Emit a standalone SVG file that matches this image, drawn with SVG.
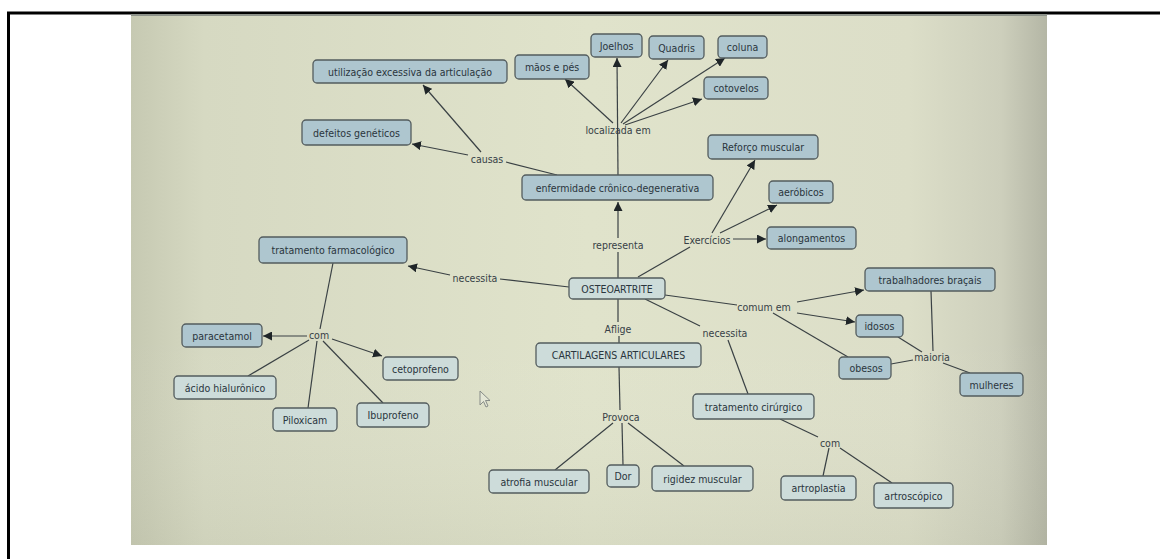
<svg xmlns="http://www.w3.org/2000/svg" width="1160" height="559" viewBox="0 0 1160 559">
<defs>
<linearGradient id="bgH" x1="0" y1="0" x2="1" y2="0">
<stop offset="0" stop-color="#c6c9b2"/>
<stop offset="0.08" stop-color="#d6d9c2"/>
<stop offset="0.5" stop-color="#e0e3cb"/>
<stop offset="0.85" stop-color="#dcdec8"/>
<stop offset="0.95" stop-color="#cdcfbc"/>
<stop offset="1" stop-color="#b4b6a5"/>
</linearGradient>
<linearGradient id="bgV" x1="0" y1="0" x2="0" y2="1">
<stop offset="0" stop-color="#ffffff" stop-opacity="0"/>
<stop offset="0.6" stop-color="#ffffff" stop-opacity="0"/>
<stop offset="1" stop-color="#9a9d88" stop-opacity="0.12"/>
</linearGradient>
<marker id="arr" viewBox="0 0 10 10" refX="10" refY="5" markerWidth="9" markerHeight="9" markerUnits="userSpaceOnUse" orient="auto">
<path d="M0,0 L10,5 L0,10 Z" fill="#1f2528"/>
</marker>
<style>
.n rect{stroke:#535c5e;stroke-width:1.3}
.b rect{fill:#aec6cf}
.l rect{fill:#cddcda}
.n text{font-family:"DejaVu Sans Condensed","DejaVu Sans",sans-serif;font-size:10.5px;fill:#2a353d;text-anchor:middle;dominant-baseline:central}
.lab{font-family:"DejaVu Sans Condensed","DejaVu Sans",sans-serif;font-size:10.5px;fill:#373f46;text-anchor:middle;dominant-baseline:central}
#connectors line{stroke:#3a4144;stroke-width:1.2;fill:none}
#connectors line.a{marker-end:url(#arr)}
</style>
</defs>
<rect x="0" y="0" width="1160" height="559" fill="#ffffff"/>
<path d="M8.5,559 L8.5,13 L1160,13" fill="none" stroke="#000" stroke-width="3"/>
<rect x="131" y="14" width="916" height="531" fill="url(#bgH)"/>
<rect x="131" y="14" width="916" height="531" fill="url(#bgV)"/>
<rect x="131" y="14" width="916" height="2" fill="#8d928a"/>

<g id="connectors">
<line x1="618" y1="175" x2="617" y2="58" class="a"/>
<line x1="613" y1="123" x2="565" y2="79" class="a"/>
<line x1="621" y1="123" x2="668" y2="60" class="a"/>
<line x1="623" y1="124" x2="725" y2="58" class="a"/>
<line x1="625" y1="125" x2="702" y2="99" class="a"/>
<line x1="557" y1="175" x2="506" y2="162"/>
<line x1="468" y1="155" x2="412" y2="144" class="a"/>
<line x1="481" y1="152" x2="423" y2="85" class="a"/>
<line x1="618" y1="278" x2="618" y2="252"/>
<line x1="618" y1="238" x2="618" y2="202" class="a"/>
<line x1="638" y1="277" x2="690" y2="247"/>
<line x1="712" y1="233" x2="755" y2="160" class="a"/>
<line x1="720" y1="233" x2="777" y2="205" class="a"/>
<line x1="733" y1="239" x2="766" y2="239" class="a"/>
<line x1="569" y1="287" x2="500" y2="279"/>
<line x1="450" y1="275" x2="408" y2="266" class="a"/>
<line x1="333" y1="263" x2="320" y2="329"/>
<line x1="307" y1="336" x2="263" y2="336" class="a"/>
<line x1="332" y1="339" x2="382" y2="356" class="a"/>
<line x1="309" y1="340" x2="248" y2="376"/>
<line x1="317" y1="341" x2="308" y2="408"/>
<line x1="323" y1="341" x2="383" y2="403"/>
<line x1="665" y1="295" x2="737" y2="305"/>
<line x1="797" y1="302" x2="864" y2="290" class="a"/>
<line x1="797" y1="313" x2="855" y2="322" class="a"/>
<line x1="773" y1="313" x2="848" y2="357"/>
<line x1="931" y1="291" x2="933" y2="351"/>
<line x1="898" y1="337" x2="922" y2="352"/>
<line x1="913" y1="360" x2="891" y2="364"/>
<line x1="943" y1="363" x2="970" y2="373"/>
<line x1="645" y1="299" x2="700" y2="326"/>
<line x1="728" y1="340" x2="748" y2="394"/>
<line x1="618" y1="299" x2="618" y2="322"/>
<line x1="619" y1="336" x2="619" y2="343"/>
<line x1="619" y1="367" x2="620" y2="410"/>
<line x1="613" y1="423" x2="555" y2="470"/>
<line x1="622" y1="423" x2="623" y2="465"/>
<line x1="628" y1="423" x2="684" y2="466"/>
<line x1="780" y1="419" x2="818" y2="437"/>
<line x1="829" y1="448" x2="823" y2="476"/>
<line x1="840" y1="448" x2="892" y2="483"/>
</g>

<g id="labels">
<text class="lab" x="618" y="130">localizada em</text>
<text class="lab" x="487" y="159">causas</text>
<text class="lab" x="618" y="245">representa</text>
<text class="lab" x="707" y="240">Exercícios</text>
<text class="lab" x="475" y="278">necessita</text>
<text class="lab" x="764" y="307">comum em</text>
<text class="lab" x="618" y="329">Aflige</text>
<text class="lab" x="725" y="333">necessita</text>
<text class="lab" x="932" y="357">maioria</text>
<text class="lab" x="319" y="335">com</text>
<text class="lab" x="621" y="417">Provoca</text>
<text class="lab" x="830" y="443">com</text>
</g>

<g id="n-utilizacao" class="n b"><rect x="313" y="60" width="194" height="23" rx="4"/><text x="410" y="71.5">utilização excessiva da articulação</text></g>
<g id="n-defeitos" class="n b"><rect x="302" y="120" width="109" height="25" rx="4"/><text x="356.5" y="132.5">defeitos genéticos</text></g>
<g id="n-maos" class="n b"><rect x="515" y="55" width="74" height="24" rx="4"/><text x="552" y="67">mãos e pés</text></g>
<g id="n-joelhos" class="n b"><rect x="591" y="34" width="51" height="23" rx="4"/><text x="616.5" y="45.5">Joelhos</text></g>
<g id="n-quadris" class="n b"><rect x="649" y="36" width="55" height="23" rx="4"/><text x="676.5" y="47.5">Quadris</text></g>
<g id="n-coluna" class="n b"><rect x="718" y="36" width="49" height="22" rx="4"/><text x="742.5" y="47">coluna</text></g>
<g id="n-cotovelos" class="n b"><rect x="704" y="77" width="64" height="22" rx="4"/><text x="736" y="88">cotovelos</text></g>
<g id="n-enfermidade" class="n b"><rect x="522" y="175" width="191" height="25" rx="4"/><text x="617.5" y="187.5">enfermidade crônico-degenerativa</text></g>
<g id="n-reforco" class="n b"><rect x="708" y="135" width="110" height="24" rx="4"/><text x="763" y="147">Reforço muscular</text></g>
<g id="n-aerobicos" class="n b"><rect x="769" y="181" width="64" height="22" rx="4"/><text x="801" y="192">aeróbicos</text></g>
<g id="n-alongamentos" class="n b"><rect x="767" y="227" width="89" height="22" rx="4"/><text x="811.5" y="238">alongamentos</text></g>
<g id="n-farmaco" class="n b"><rect x="259" y="237" width="148" height="26" rx="4"/><text x="333" y="250">tratamento farmacológico</text></g>
<g id="n-osteo" class="n l"><rect x="569" y="278" width="96" height="21" rx="4"/><text x="617" y="288.5">OSTEOARTRITE</text></g>
<g id="n-trabalhadores" class="n b"><rect x="865" y="268" width="130" height="23" rx="4"/><text x="930" y="279.5">trabalhadores braçais</text></g>
<g id="n-idosos" class="n b"><rect x="856" y="315" width="47" height="22" rx="4"/><text x="879.5" y="326">idosos</text></g>
<g id="n-obesos" class="n b"><rect x="839" y="357" width="52" height="22" rx="4"/><text x="866" y="368">obesos</text></g>
<g id="n-mulheres" class="n b"><rect x="960" y="373" width="63" height="23" rx="4"/><text x="991.5" y="384.5">mulheres</text></g>
<g id="n-cartilagens" class="n l"><rect x="536" y="343" width="165" height="24" rx="4"/><text x="618.5" y="355">CARTILAGENS ARTICULARES</text></g>
<g id="n-cirurgico" class="n l"><rect x="693" y="394" width="121" height="25" rx="4"/><text x="753.5" y="406.5">tratamento cirúrgico</text></g>
<g id="n-paracetamol" class="n b"><rect x="182" y="324" width="80" height="23" rx="4"/><text x="222" y="335.5">paracetamol</text></g>
<g id="n-cetoprofeno" class="n l"><rect x="383" y="357" width="75" height="23" rx="4"/><text x="420.5" y="368.5">cetoprofeno</text></g>
<g id="n-acido" class="n l"><rect x="174" y="376" width="102" height="23" rx="4"/><text x="225" y="387.5">ácido hialurônico</text></g>
<g id="n-piloxicam" class="n l"><rect x="273" y="408" width="64" height="23" rx="4"/><text x="305" y="419.5">Piloxicam</text></g>
<g id="n-ibuprofeno" class="n l"><rect x="357" y="403" width="72" height="24" rx="4"/><text x="393" y="415">Ibuprofeno</text></g>
<g id="n-atrofia" class="n l"><rect x="489" y="470" width="100" height="23" rx="4"/><text x="539" y="481.5">atrofia muscular</text></g>
<g id="n-dor" class="n l"><rect x="607" y="465" width="32" height="22" rx="4"/><text x="623" y="476">Dor</text></g>
<g id="n-rigidez" class="n l"><rect x="652" y="466" width="101" height="25" rx="4"/><text x="702.5" y="478.5">rigidez muscular</text></g>
<g id="n-artroplastia" class="n l"><rect x="781" y="476" width="75" height="24" rx="4"/><text x="818.5" y="488">artroplastia</text></g>
<g id="n-artroscopico" class="n l"><rect x="874" y="483" width="79" height="25" rx="4"/><text x="913.5" y="495.5">artroscópico</text></g>

<path d="M480,391 L480,405 L483.5,401.5 L486,407 L488,406 L485.5,400.5 L490,400.5 Z" fill="#e4e7d6" stroke="#7d8280" stroke-width="0.9"/>
</svg>
